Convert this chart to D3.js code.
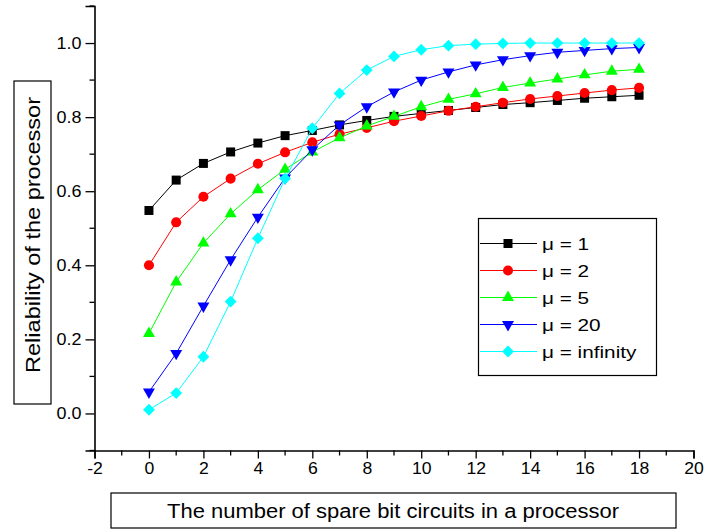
<!DOCTYPE html>
<html>
<head>
<meta charset="utf-8">
<script src="https://cdn.jsdelivr.net/npm/d3@7"></script>
<style>
  body { margin: 0; background: #fff; }
  svg { display: block; }
  text { font-family: Arial, "Liberation Sans", sans-serif; fill: #000; }
</style>
</head>
<body>
<div id="chart"></div>
<script>
// Datos
var spares = [0, 1, 2, 3, 4, 5, 6, 7, 8, 9, 10, 11, 12, 13, 14, 15, 16, 17, 18];

var mu1   = [0.548, 0.630, 0.675, 0.706, 0.730, 0.750, 0.764, 0.779, 0.791, 0.802, 0.810, 0.818, 0.826, 0.834, 0.839, 0.845, 0.851, 0.855, 0.859];
var mu2   = [0.400, 0.516, 0.585, 0.634, 0.674, 0.705, 0.732, 0.754, 0.771, 0.789, 0.803, 0.817, 0.828, 0.839, 0.849, 0.857, 0.865, 0.873, 0.879];
var mu5   = [0.216, 0.355, 0.460, 0.539, 0.604, 0.659, 0.706, 0.744, 0.776, 0.802, 0.828, 0.848, 0.863, 0.880, 0.892, 0.903, 0.914, 0.924, 0.929];
var mu20  = [0.058, 0.162, 0.290, 0.415, 0.530, 0.636, 0.712, 0.779, 0.828, 0.868, 0.900, 0.922, 0.941, 0.955, 0.966, 0.975, 0.980, 0.985, 0.988];
var muInf = [0.010, 0.055, 0.153, 0.302, 0.473, 0.634, 0.770, 0.864, 0.927, 0.964, 0.982, 0.993, 0.997, 0.999, 1.000, 1.000, 1.000, 1.000, 1.000];

var seriesNames = ["\u03bc = 1", "\u03bc = 2", "\u03bc = 5", "\u03bc = 20", "\u03bc = infinity"];
var seriesValues = [mu1, mu2, mu5, mu20, muInf];

var xTicks = [-2, 0, 2, 4, 6, 8, 10, 12, 14, 16, 18, 20];
var yTicks = [0.0, 0.2, 0.4, 0.6, 0.8, 1.0];

// Estilos de cada serie
var colors = ["#000000", "#ff0000", "#00ff00", "#0000ff", "#00ffff"];
var shapes = [
  {type: d3.symbolSquare,   size: 81, rot: 0},
  {type: d3.symbolCircle,   size: 80, rot: 0},
  {type: d3.symbolTriangle, size: 62, rot: 0},
  {type: d3.symbolTriangle, size: 62, rot: 180},
  {type: d3.symbolSquare,   size: 70, rot: 45}
];

var W = 704, H = 529;
var svg = d3.select("#chart").append("svg")
  .attr("width", W)
  .attr("height", H);

// Ensancha un texto (la imagen original esta algo estirada)
function stretch(sel, k) {
  sel.each(function() {
    var w = this.getComputedTextLength();
    d3.select(this).attr("textLength", w * k).attr("lengthAdjust", "spacingAndGlyphs");
  });
}

// Escalas
var x = d3.scaleLinear().domain([-2, 20]).range([94.5, 693.5]);
var y = d3.scaleLinear().domain([-0.1, 1.1]).range([450.5, 6]);

// Eje X
var xAxis = svg.append("g")
  .attr("transform", "translate(0," + y(-0.1) + ")");
xAxis.call(d3.axisBottom(x).tickValues(xTicks).tickSize(8).tickPadding(4)
  .tickFormat(function(d) { return String(d); }));
xAxis.selectAll(".tick text").style("font-size", "16px");
xAxis.select(".domain").attr("stroke-width", 1.6);
xAxis.selectAll(".tick line").attr("stroke-width", 1.3);
stretch(xAxis.selectAll(".tick text"), 1.1);
// minor ticks
xAxis.selectAll("line.minor")
  .data(d3.range(-1, 20, 2))
  .enter().append("line")
  .attr("class", "minor")
  .attr("x1", function(d) { return x(d); })
  .attr("x2", function(d) { return x(d); })
  .attr("y1", 0).attr("y2", 5)
  .attr("stroke", "#000").attr("stroke-width", 1.3);

// Eje Y
var yAxis = svg.append("g")
  .attr("transform", "translate(" + x(-2) + ",0)");
yAxis.call(d3.axisLeft(y).tickValues(yTicks).tickSize(9).tickPadding(4).tickFormat(d3.format(".1f")));
yAxis.selectAll(".tick text").style("font-size", "16px");
yAxis.select(".domain").attr("stroke-width", 1.6);
yAxis.selectAll(".tick line").attr("stroke-width", 1.3);
stretch(yAxis.selectAll(".tick text"), 1.12);
yAxis.selectAll("line.minor")
  .data([-0.1, 0.1, 0.3, 0.5, 0.7, 0.9, 1.1])
  .enter().append("line")
  .attr("class", "minor")
  .attr("y1", function(d) { return y(d); })
  .attr("y2", function(d) { return y(d); })
  .attr("x1", 0).attr("x2", -5)
  .attr("stroke", "#000").attr("stroke-width", 1.3);

// Titulos de los ejes (en caja)
svg.append("rect")
  .attr("x", 111).attr("y", 493).attr("width", 565).attr("height", 35)
  .attr("fill", "#fff").attr("stroke", "#000").attr("stroke-width", 1.2);
svg.append("text")
  .attr("x", 393).attr("y", 518)
  .attr("text-anchor", "middle")
  .style("font-size", "20px")
  .attr("textLength", 452).attr("lengthAdjust", "spacingAndGlyphs")
  .text("The number of spare bit circuits in a processor");

svg.append("rect")
  .attr("x", 14).attr("y", 81).attr("width", 37).attr("height", 323)
  .attr("fill", "#fff").attr("stroke", "#000").attr("stroke-width", 1.2);
svg.append("text")
  .attr("transform", "translate(40,235) rotate(-90)")
  .attr("text-anchor", "middle")
  .style("font-size", "20px")
  .attr("textLength", 276).attr("lengthAdjust", "spacingAndGlyphs")
  .text("Reliability of the processor");

// Series
var line = d3.line()
  .x(function(d, i) { return x(spares[i]); })
  .y(function(d) { return y(d); });

seriesValues.forEach(function(vals, s) {
  var g = svg.append("g");
  g.append("path")
    .datum(vals)
    .attr("fill", "none")
    .attr("stroke", colors[s])
    .attr("stroke-width", 1)
    .attr("d", line);
  g.selectAll("path.pt")
    .data(vals)
    .enter().append("path")
    .attr("class", "pt")
    .attr("d", d3.symbol().type(shapes[s].type).size(shapes[s].size))
    .attr("transform", function(d, i) {
      return "translate(" + x(spares[i]) + "," + y(d) + ") rotate(" + shapes[s].rot + ")";
    })
    .attr("fill", colors[s]);
});

// Leyenda
var legend = svg.append("g");
legend.append("rect")
  .attr("x", 478.5).attr("y", 218.5).attr("width", 178).attr("height", 157)
  .attr("fill", "#fff").attr("stroke", "#000").attr("stroke-width", 1.2);

var rows = legend.selectAll("g.row")
  .data(seriesNames)
  .enter().append("g")
  .attr("class", "row")
  .attr("transform", function(d, i) { return "translate(0," + (243.5 + i * 27) + ")"; });

rows.append("line")
  .attr("x1", 480).attr("x2", 537)
  .attr("y1", 0).attr("y2", 0)
  .attr("stroke", function(d, i) { return colors[i]; })
  .attr("stroke-width", 1);
rows.append("path")
  .attr("d", function(d, i) { return d3.symbol().type(shapes[i].type).size(shapes[i].size)(); })
  .attr("transform", function(d, i) { return "translate(508,0) rotate(" + shapes[i].rot + ")"; })
  .attr("fill", function(d, i) { return colors[i]; });
var labels = rows.append("text")
  .attr("x", 542).attr("y", 6)
  .style("font-size", "17px")
  .text(function(d) { return d; });
stretch(labels, 1.22);
</script>
</body>
</html>
